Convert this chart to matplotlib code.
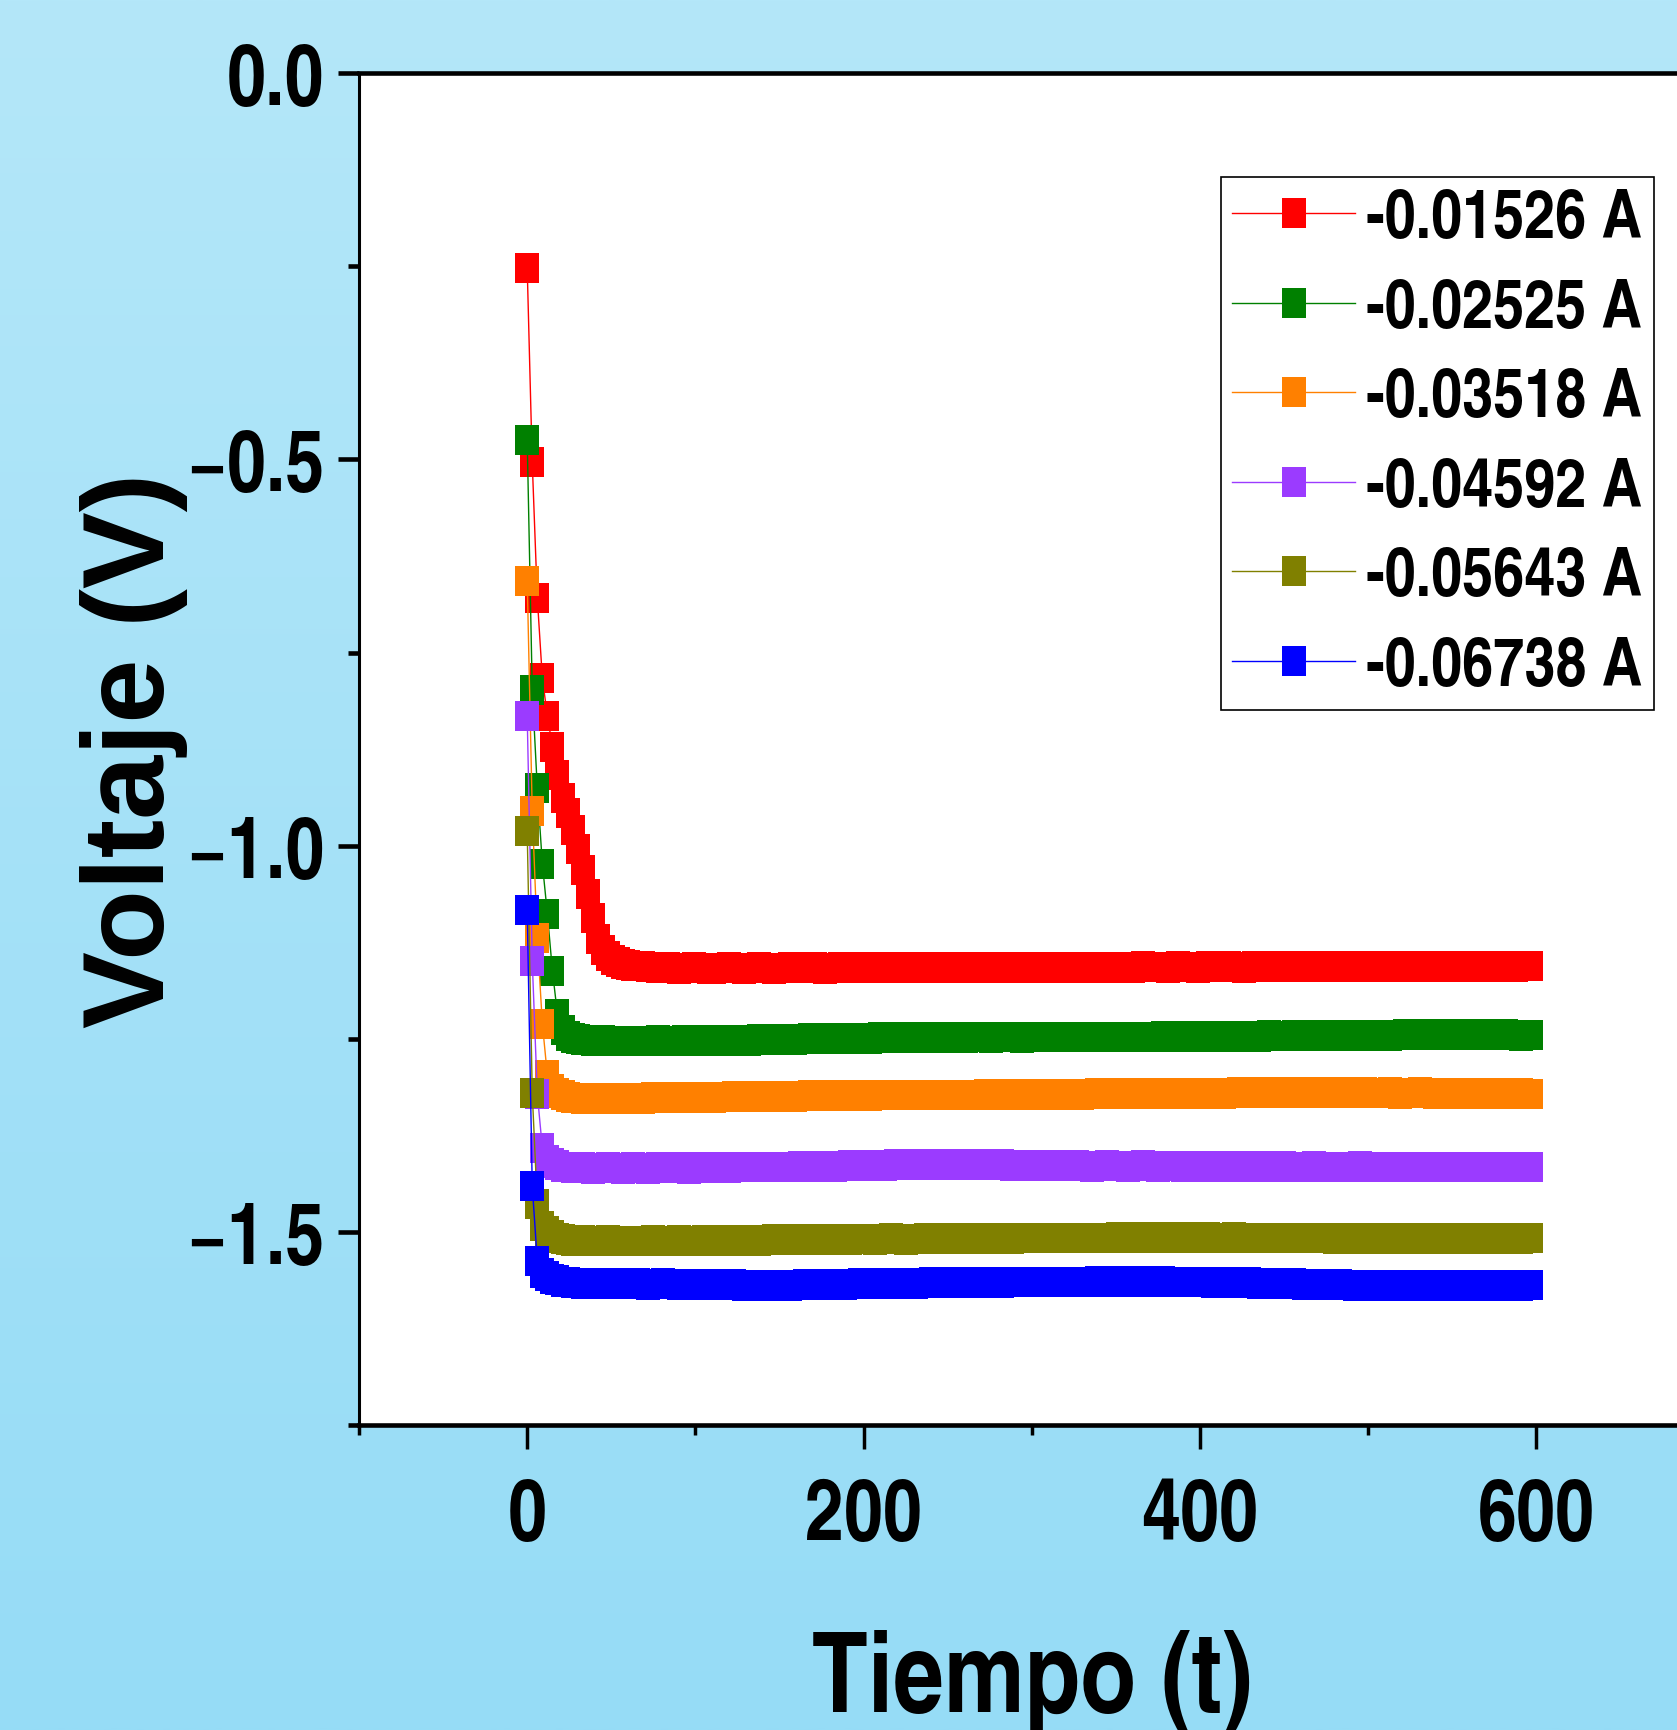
import numpy as np
import matplotlib
matplotlib.use("Agg")
import matplotlib.pyplot as plt
from matplotlib import font_manager
from matplotlib.path import Path
from matplotlib.ticker import FixedLocator, FuncFormatter

# ---------------------------------------------------------------- data
# Voltage readings (V), one sample every 3 s starting at t = 0
SAMPLE_STEP_S = 3

v_01526 = [
    -0.252, -0.504, -0.679, -0.783, -0.832, -0.872, -0.909, -0.938, -0.957, -0.979,
    -1.004, -1.031, -1.063, -1.094, -1.120, -1.135, -1.143, -1.148, -1.151, -1.153,
    -1.154, -1.155, -1.156, -1.156, -1.157,
    -1.157, -1.158, -1.158, -1.157, -1.158, -1.159, -1.158, -1.158, -1.157, -1.158,
    -1.158, -1.159, -1.159, -1.158, -1.158, -1.157, -1.158, -1.158, -1.159, -1.158,
    -1.158, -1.157, -1.158, -1.158, -1.159, -1.158, -1.158, -1.157, -1.157, -1.158,
    -1.158, -1.158, -1.157, -1.158, -1.159, -1.158, -1.158, -1.157, -1.158, -1.158,
    -1.157, -1.158, -1.158, -1.158, -1.157, -1.157, -1.158, -1.158, -1.157, -1.158,
    -1.158, -1.157, -1.157, -1.158, -1.158, -1.158, -1.157, -1.158, -1.158, -1.157,
    -1.157, -1.158, -1.158, -1.157, -1.157, -1.158, -1.157, -1.157, -1.158, -1.158,
    -1.157, -1.157, -1.158, -1.157, -1.157, -1.158, -1.158, -1.157, -1.157, -1.157,
    -1.158, -1.157, -1.157, -1.158, -1.157, -1.157, -1.157, -1.158, -1.157, -1.157,
    -1.157, -1.158, -1.157, -1.157, -1.157, -1.158, -1.157, -1.156, -1.157, -1.157,
    -1.157, -1.157, -1.158, -1.157, -1.156, -1.157, -1.157, -1.157, -1.158, -1.157,
    -1.156, -1.157, -1.157, -1.157, -1.156, -1.157, -1.157, -1.158, -1.157, -1.156,
    -1.157, -1.157, -1.156, -1.157, -1.157, -1.157, -1.156, -1.157, -1.157, -1.156,
    -1.157, -1.157, -1.157, -1.156, -1.156, -1.157, -1.157, -1.156, -1.157, -1.157,
    -1.156, -1.157, -1.157, -1.156, -1.156, -1.157, -1.157, -1.156, -1.156, -1.157,
    -1.157, -1.156, -1.156, -1.157, -1.156, -1.156, -1.157, -1.157, -1.156, -1.156,
    -1.157, -1.156, -1.156, -1.157, -1.156, -1.156, -1.156, -1.157, -1.156, -1.156,
    -1.156, -1.157, -1.156, -1.156, -1.156,
]

v_02525 = [
    -0.475, -0.798, -0.925, -1.023, -1.088, -1.162, -1.218, -1.239, -1.246, -1.249,
    -1.250,
    -1.251, -1.251, -1.252, -1.252, -1.251, -1.252, -1.252, -1.253, -1.252, -1.252,
    -1.252, -1.253, -1.252, -1.252, -1.252, -1.251, -1.252, -1.253, -1.252, -1.252,
    -1.251, -1.252, -1.252, -1.251, -1.251, -1.252, -1.252, -1.251, -1.251, -1.252,
    -1.251, -1.251, -1.251, -1.252, -1.251, -1.250, -1.251, -1.251, -1.250, -1.251,
    -1.250, -1.250, -1.251, -1.250, -1.250, -1.249, -1.250, -1.250, -1.250, -1.249,
    -1.250, -1.249, -1.249, -1.250, -1.249, -1.249, -1.249, -1.250, -1.249, -1.248,
    -1.249, -1.249, -1.248, -1.249, -1.249, -1.248, -1.249, -1.249, -1.248, -1.248,
    -1.249, -1.248, -1.248, -1.249, -1.248, -1.248, -1.249, -1.248, -1.248, -1.248,
    -1.248, -1.249, -1.248, -1.248, -1.247, -1.248, -1.248, -1.249, -1.248, -1.248,
    -1.248, -1.247, -1.248, -1.248, -1.248, -1.247, -1.248, -1.248, -1.247, -1.248,
    -1.247, -1.248, -1.248, -1.247, -1.247, -1.248, -1.247, -1.247, -1.248, -1.247,
    -1.247, -1.247, -1.248, -1.247, -1.247, -1.246, -1.247, -1.247, -1.247, -1.246,
    -1.247, -1.247, -1.246, -1.247, -1.247, -1.246, -1.246, -1.247, -1.246, -1.246,
    -1.247, -1.246, -1.246, -1.246, -1.247, -1.246, -1.245, -1.246, -1.246, -1.246,
    -1.246, -1.245, -1.246, -1.246, -1.245, -1.246, -1.246, -1.245, -1.245, -1.246,
    -1.246, -1.245, -1.245, -1.246, -1.245, -1.245, -1.246, -1.245, -1.245, -1.245,
    -1.246, -1.245, -1.245, -1.244, -1.245, -1.245, -1.245, -1.244, -1.245, -1.245,
    -1.245, -1.244, -1.245, -1.245, -1.244, -1.245, -1.245, -1.244, -1.245, -1.245,
    -1.244, -1.245, -1.245, -1.244, -1.245, -1.245, -1.246, -1.245, -1.245,
]

v_03518 = [
    -0.657, -0.955, -1.119, -1.230, -1.297, -1.315, -1.320, -1.323, -1.325,
    -1.326, -1.326, -1.327, -1.326, -1.326, -1.327, -1.327, -1.326, -1.326, -1.327,
    -1.327, -1.326, -1.326, -1.326, -1.327, -1.326, -1.325, -1.326, -1.326, -1.326,
    -1.325, -1.326, -1.326, -1.325, -1.325, -1.326, -1.325, -1.325, -1.326, -1.325,
    -1.325, -1.325, -1.324, -1.325, -1.325, -1.325, -1.324, -1.325, -1.324, -1.324,
    -1.325, -1.324, -1.324, -1.324, -1.325, -1.324, -1.324, -1.323, -1.324, -1.324,
    -1.324, -1.323, -1.324, -1.324, -1.323, -1.323, -1.324, -1.323, -1.323, -1.324,
    -1.323, -1.323, -1.323, -1.322, -1.323, -1.323, -1.323, -1.322, -1.323, -1.323,
    -1.322, -1.323, -1.323, -1.322, -1.322, -1.323, -1.322, -1.322, -1.323, -1.322,
    -1.322, -1.322, -1.321, -1.322, -1.322, -1.322, -1.321, -1.322, -1.322, -1.321,
    -1.322, -1.322, -1.321, -1.321, -1.322, -1.321, -1.321, -1.322, -1.321, -1.321,
    -1.321, -1.322, -1.321, -1.321, -1.320, -1.321, -1.321, -1.321, -1.320, -1.321,
    -1.321, -1.320, -1.321, -1.321, -1.320, -1.320, -1.321, -1.320, -1.321, -1.321,
    -1.320, -1.320, -1.321, -1.320, -1.320, -1.321, -1.320, -1.320, -1.320, -1.321,
    -1.320, -1.320, -1.319, -1.320, -1.320, -1.320, -1.319, -1.320, -1.320, -1.320,
    -1.319, -1.320, -1.320, -1.319, -1.320, -1.320, -1.320, -1.319, -1.320, -1.320,
    -1.320, -1.319, -1.320, -1.320, -1.319, -1.320, -1.320, -1.319, -1.320, -1.320,
    -1.320, -1.320, -1.319, -1.320, -1.321, -1.320, -1.320, -1.320, -1.319, -1.320,
    -1.320, -1.321, -1.320, -1.320, -1.320, -1.321, -1.320, -1.320, -1.321, -1.320,
    -1.320, -1.321, -1.321, -1.320, -1.321, -1.320, -1.321, -1.321, -1.320, -1.321,
    -1.321,
]

v_04592 = [
    -0.832, -1.149, -1.321, -1.391, -1.406, -1.411, -1.413, -1.415,
    -1.416, -1.417, -1.417, -1.416, -1.417, -1.418, -1.417, -1.417, -1.416, -1.417,
    -1.417, -1.418, -1.417, -1.416, -1.417, -1.417, -1.418, -1.417, -1.416, -1.416,
    -1.417, -1.417, -1.416, -1.417, -1.418, -1.417, -1.416, -1.416, -1.417, -1.417,
    -1.416, -1.416, -1.417, -1.416, -1.416, -1.415, -1.416, -1.416, -1.415, -1.416,
    -1.416, -1.415, -1.415, -1.416, -1.415, -1.415, -1.414, -1.415, -1.415, -1.414,
    -1.415, -1.414, -1.414, -1.415, -1.414, -1.414, -1.413, -1.414, -1.414, -1.413,
    -1.414, -1.413, -1.413, -1.414, -1.413, -1.412, -1.413, -1.413, -1.412, -1.413,
    -1.413, -1.412, -1.413, -1.413, -1.412, -1.412, -1.413, -1.412, -1.413, -1.413,
    -1.412, -1.413, -1.413, -1.412, -1.413, -1.413, -1.412, -1.413, -1.414, -1.413,
    -1.413, -1.414, -1.413, -1.413, -1.414, -1.413, -1.414, -1.414, -1.413, -1.414,
    -1.414, -1.413, -1.414, -1.414, -1.415, -1.414, -1.414, -1.413, -1.414, -1.414,
    -1.414, -1.415, -1.414, -1.414, -1.413, -1.414, -1.414, -1.415, -1.414, -1.414,
    -1.414, -1.414, -1.415, -1.414, -1.414, -1.415, -1.414, -1.414, -1.415, -1.414,
    -1.415, -1.414, -1.414, -1.415, -1.415, -1.414, -1.415, -1.415, -1.414, -1.415,
    -1.415, -1.415, -1.414, -1.415, -1.415, -1.416, -1.415, -1.415, -1.414, -1.415,
    -1.415, -1.416, -1.415, -1.415, -1.415, -1.416, -1.415, -1.414, -1.415, -1.415,
    -1.416, -1.415, -1.415, -1.416, -1.415, -1.415, -1.416, -1.415, -1.415, -1.416,
    -1.415, -1.415, -1.416, -1.415, -1.415, -1.416, -1.416, -1.415, -1.415, -1.416,
    -1.415, -1.416, -1.415, -1.415, -1.416, -1.415, -1.415, -1.416, -1.415, -1.415,
    -1.416, -1.415,
]

v_05643 = [
    -0.981, -1.320, -1.463, -1.492, -1.499, -1.504, -1.507, -1.509,
    -1.510, -1.511, -1.511, -1.510, -1.511, -1.512, -1.511, -1.511, -1.510, -1.511,
    -1.511, -1.512, -1.511, -1.511, -1.512, -1.511, -1.511, -1.510, -1.511, -1.512,
    -1.511, -1.511, -1.510, -1.511, -1.511, -1.512, -1.511, -1.510, -1.511, -1.511,
    -1.510, -1.511, -1.511, -1.510, -1.510, -1.511, -1.510, -1.510, -1.511, -1.510,
    -1.510, -1.509, -1.510, -1.510, -1.510, -1.509, -1.510, -1.510, -1.509, -1.510,
    -1.510, -1.509, -1.509, -1.510, -1.509, -1.509, -1.510, -1.509, -1.509, -1.509,
    -1.509, -1.510, -1.509, -1.509, -1.508, -1.509, -1.509, -1.510, -1.509, -1.509,
    -1.509, -1.508, -1.509, -1.509, -1.509, -1.508, -1.509, -1.509, -1.508, -1.509,
    -1.508, -1.509, -1.509, -1.508, -1.508, -1.509, -1.508, -1.508, -1.509, -1.508,
    -1.508, -1.508, -1.507, -1.508, -1.508, -1.508, -1.507, -1.508, -1.508, -1.507,
    -1.508, -1.507, -1.507, -1.508, -1.507, -1.507, -1.508, -1.507, -1.507, -1.506,
    -1.507, -1.507, -1.506, -1.507, -1.507, -1.506, -1.507, -1.507, -1.506, -1.507,
    -1.507, -1.506, -1.507, -1.507, -1.506, -1.506, -1.507, -1.506, -1.507, -1.507,
    -1.507, -1.507, -1.506, -1.507, -1.507, -1.508, -1.507, -1.507, -1.508, -1.507,
    -1.508, -1.507, -1.508, -1.508, -1.507, -1.508, -1.508, -1.507, -1.508, -1.508,
    -1.508, -1.508, -1.509, -1.508, -1.508, -1.509, -1.508, -1.508, -1.508, -1.509,
    -1.508, -1.509, -1.508, -1.508, -1.509, -1.508, -1.508, -1.509, -1.508, -1.508,
    -1.509, -1.508, -1.508, -1.509, -1.508, -1.508, -1.509, -1.508, -1.508, -1.509,
    -1.508, -1.508, -1.509, -1.508, -1.508, -1.509, -1.508, -1.508, -1.508, -1.509,
    -1.508, -1.508,
]

v_06738 = [
    -1.083, -1.440, -1.537, -1.553, -1.557, -1.560, -1.562, -1.564,
    -1.565, -1.566, -1.566, -1.567, -1.566, -1.566, -1.567, -1.567, -1.566, -1.567,
    -1.567, -1.566, -1.567, -1.567, -1.566, -1.567, -1.568, -1.567, -1.567, -1.566,
    -1.567, -1.567, -1.568, -1.567, -1.567, -1.568, -1.567, -1.567, -1.568, -1.568,
    -1.567, -1.568, -1.568, -1.567, -1.568, -1.569, -1.568, -1.568, -1.569, -1.568,
    -1.568, -1.569, -1.568, -1.568, -1.569, -1.568, -1.568, -1.567, -1.568, -1.568,
    -1.567, -1.568, -1.568, -1.567, -1.567, -1.568, -1.567, -1.567, -1.566, -1.567,
    -1.567, -1.566, -1.567, -1.567, -1.566, -1.566, -1.567, -1.566, -1.566, -1.567,
    -1.566, -1.566, -1.565, -1.566, -1.566, -1.565, -1.566, -1.566, -1.565, -1.566,
    -1.566, -1.565, -1.565, -1.566, -1.565, -1.565, -1.566, -1.565, -1.565, -1.564,
    -1.565, -1.565, -1.564, -1.565, -1.565, -1.564, -1.565, -1.564, -1.564, -1.565,
    -1.564, -1.564, -1.565, -1.564, -1.564, -1.563, -1.564, -1.564, -1.563, -1.564,
    -1.564, -1.563, -1.564, -1.564, -1.563, -1.563, -1.564, -1.563, -1.563, -1.564,
    -1.564, -1.564, -1.565, -1.564, -1.565, -1.565, -1.564, -1.565, -1.566, -1.565,
    -1.565, -1.566, -1.565, -1.566, -1.566, -1.565, -1.566, -1.567, -1.566, -1.566,
    -1.567, -1.566, -1.567, -1.567, -1.566, -1.567, -1.568, -1.567, -1.567, -1.568,
    -1.567, -1.568, -1.568, -1.567, -1.568, -1.568, -1.569, -1.568, -1.568, -1.569,
    -1.568, -1.568, -1.569, -1.568, -1.568, -1.569, -1.568, -1.568, -1.569, -1.568,
    -1.568, -1.569, -1.568, -1.568, -1.569, -1.568, -1.569, -1.569, -1.568, -1.568,
    -1.569, -1.568, -1.568, -1.569, -1.568, -1.568, -1.569, -1.568, -1.568, -1.569,
    -1.568, -1.568,
]

series_values = [v_01526, v_02525, v_03518, v_04592, v_05643, v_06738]
series_labels = ["-0.01526 A", "-0.02525 A", "-0.03518 A",
                 "-0.04592 A", "-0.05643 A", "-0.06738 A"]
series_colors = ["#FF0000", "#008000", "#FF8000", "#9B3BFF", "#808000", "#0000FF"]

x_major = [0, 200, 400, 600]
x_minor = [-100, 100, 300, 500]
y_major = [0.0, -0.5, -1.0, -1.5]
y_minor = [-0.25, -0.75, -1.25, -1.75]

# ---------------------------------------------------------------- fonts
available = {f.name for f in font_manager.fontManager.ttflist}


def first_available(*names):
    for n in names:
        if n in available:
            return n
    return "DejaVu Sans"


NARROW = first_available("TeX Gyre Heros Cn", "Roboto Condensed", "Liberation Sans")
REGULAR = first_available("Liberation Sans", "TeX Gyre Heros", "Arimo")
plt.rcParams["font.family"] = [NARROW, "DejaVu Sans"]
plt.rcParams["font.weight"] = "bold"
plt.rcParams["axes.unicode_minus"] = True

# ---------------------------------------------------------------- figure
W, H = 1677, 1731
fig = plt.figure(figsize=(W / 100, H / 100), dpi=100)

# soft sky-blue backdrop, lighter at the top
bg = fig.add_axes([0, 0, 1, 1], zorder=-10)
top_rgb = np.array([180, 231, 249]) / 255.0
bot_rgb = np.array([150, 220, 246]) / 255.0
frac = np.linspace(0, 1, 512)[:, None, None]
bg.imshow(top_rgb + (bot_rgb - top_rgb) * frac, aspect="auto",
          extent=[0, 1, 0, 1], origin="upper", interpolation="bilinear")
bg.set_axis_off()

# plot frame in pixel units (the right side runs past the canvas edge)
left_px, top_px, bottom_px, right_px = 359.0, 74.0, 1426.4, 1704.6
ax = fig.add_axes([left_px / W, 1 - bottom_px / H,
                   (right_px - left_px) / W, (bottom_px - top_px) / H])
ax.set_facecolor("white")
ax.set_xlim(-100, 700)
ax.set_ylim(-1.75, 0.0)

# upright rectangular marker, taller than wide
tall_box = Path([(-0.4, -0.5), (0.4, -0.5), (0.4, 0.5), (-0.4, 0.5), (-0.4, -0.5)],
                [Path.MOVETO, Path.LINETO, Path.LINETO, Path.LINETO, Path.CLOSEPOLY])

for values, label, color in zip(series_values, series_labels, series_colors):
    t = np.arange(len(values)) * SAMPLE_STEP_S
    ax.plot(t, values, color=color, lw=1.0, marker=tall_box, ms=21.6,
            markeredgewidth=0, markerfacecolor=color, label=label)

# ---------------------------------------------------------------- axes styling
ax.spines["right"].set_visible(False)
ax.spines["top"].set_linewidth(3.3)
ax.spines["bottom"].set_linewidth(3.3)
ax.spines["left"].set_linewidth(2.2)

ax.xaxis.set_major_locator(FixedLocator(x_major))
ax.xaxis.set_minor_locator(FixedLocator(x_minor))
ax.yaxis.set_major_locator(FixedLocator(y_major))
ax.yaxis.set_minor_locator(FixedLocator(y_minor))
ax.xaxis.set_major_formatter(FuncFormatter(lambda v, p: f"{v:.0f}"))
ax.yaxis.set_major_formatter(
    FuncFormatter(lambda v, p: f"{abs(v):.1f}" if abs(v) < 1e-9 else f"{v:.1f}".replace("-", "\u2212")))

ax.tick_params(axis="x", which="major", direction="out", length=17, width=2.5,
               pad=20, labelsize=61.5, top=False)
ax.tick_params(axis="x", which="minor", direction="out", length=7.5, width=2.5, top=False)
ax.tick_params(axis="y", which="major", direction="out", length=15, width=3.3,
               pad=10, labelsize=61.5, right=False)
ax.tick_params(axis="y", which="minor", direction="out", length=7.7, width=3.3, right=False)
for lbl in ax.get_xticklabels() + ax.get_yticklabels():
    lbl.set_fontweight("bold")
    lbl.set_family([NARROW, "DejaVu Sans"])

ax.set_xlabel("Tiempo (t)", fontsize=80, fontweight="bold", family=[NARROW, "DejaVu Sans"])
ax.xaxis.set_label_coords(0.5, (bottom_px - 1630.0) / (bottom_px - top_px))
ax.set_ylabel("Voltaje (V)", fontsize=83, fontweight="bold", family=[REGULAR, "DejaVu Sans"])
ax.yaxis.set_label_coords((188.0 - left_px) / (right_px - left_px), 0.5)

leg = ax.legend(loc="upper left", bbox_to_anchor=(1220.7 / W, 1 - 177.5 / H),
                bbox_transform=fig.transFigure, borderaxespad=0,
                prop={"family": [NARROW, "DejaVu Sans"], "weight": "bold", "size": 49},
                frameon=True, fancybox=False, shadow=False, framealpha=1,
                edgecolor="black", borderpad=0.17, labelspacing=0.39,
                handlelength=1.80, handletextpad=0.17, numpoints=1)
leg.get_frame().set_linewidth(1.2)

fig.savefig("out.png", dpi=100)
